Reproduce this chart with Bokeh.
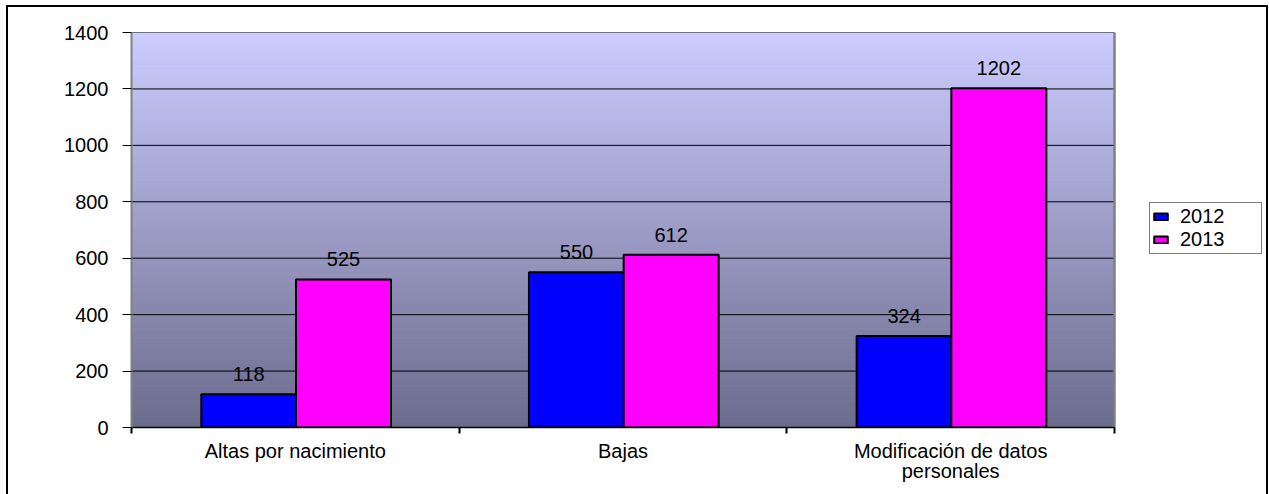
import numpy as np
from bokeh.plotting import figure
from bokeh.models import (ColumnDataSource, Range1d, FixedTicker, Legend, LegendItem)
from bokeh.transform import dodge
from bokeh.core.properties import value
from bokeh.embed import file_html
from bokeh.resources import INLINE

# ---- data ----
categories = ["Altas por nacimiento", "Bajas", "Modificación de datos\npersonales"]
series_names = ["2012", "2013"]
values_2012 = [118, 550, 324]
values_2013 = [525, 612, 1202]
y_ticks = [0, 200, 400, 600, 800, 1000, 1200, 1400]

FONT = "Liberation Sans"
FS = "20px"
n_cat = len(categories)
positions = [i + 0.5 for i in range(n_cat)]

# layout: plot area 983 px wide; the frame is extended to the right to host the legend
PLOT_W = 983
FRAME_W = 1131
x_end = n_cat * FRAME_W / PLOT_W

src = ColumnDataSource(dict(x=positions, y2012=values_2012, y2013=values_2013,
                            l2012=[str(v) for v in values_2012],
                            l2013=[str(v) for v in values_2013]))

p = figure(width=1262, height=489, output_backend="svg", toolbar_location=None,
           x_range=Range1d(0, x_end), y_range=Range1d(0, y_ticks[-1]),
           min_border_left=123, min_border_right=1262 - 123 - FRAME_W,
           min_border_top=25, min_border_bottom=69)
p.styles = {"border": "2px solid black", "border-bottom": "none",
            "margin-left": "6px", "margin-top": "5px"}
p.background_fill_color = "white"
p.border_fill_color = "white"
p.outline_line_color = None

# gradient background strips
n = 140
edges = np.linspace(y_ticks[0], y_ticks[-1], n + 1)
top_c = np.array([204, 204, 255])
bot_c = np.array([107, 107, 140])
cols = []
for i in range(n):
    t = (i + 0.5) / n
    c = bot_c + (top_c - bot_c) * t
    cols.append("#%02x%02x%02x" % tuple(int(round(v)) for v in c))
g = p.quad(left=0, right=n_cat, bottom=edges[:-1], top=edges[1:],
           fill_color=cols, line_color=cols, line_width=1)
g.level = "image"

# horizontal grid lines limited to the plot area
p.xgrid.visible = False
p.ygrid.visible = False
p.segment(x0=[0] * len(y_ticks), x1=[n_cat] * len(y_ticks), y0=y_ticks, y1=y_ticks,
          line_color="black", line_width=1)
# right edge of the plot area
p.segment(x0=[n_cat], x1=[n_cat], y0=[y_ticks[0]], y1=[y_ticks[-1]],
          line_color="#808080", line_width=2.5)

bw = 0.29
r1 = p.vbar(x=dodge("x", -0.142, range=p.x_range), top="y2012", width=bw, source=src,
            fill_color="#0000ff", line_color="black", line_width=2)
r2 = p.vbar(x=dodge("x", 0.147, range=p.x_range), top="y2013", width=bw, source=src,
            fill_color="#ff00ff", line_color="black", line_width=2)

p.text(x=dodge("x", -0.142, range=p.x_range), y="y2012", text="l2012", source=src,
       text_align="center", text_baseline="bottom", y_offset=-13,
       text_font=value(FONT), text_font_size=FS, text_color="black")
p.text(x=dodge("x", 0.147, range=p.x_range), y="y2013", text="l2013", source=src,
       text_align="center", text_baseline="bottom", y_offset=-13,
       text_font=value(FONT), text_font_size=FS, text_color="black")

# y axis
p.yaxis.ticker = FixedTicker(ticks=y_ticks)
p.yaxis.axis_line_color = "#808080"
p.yaxis.axis_line_width = 2
p.yaxis.major_tick_out = 9
p.yaxis.major_tick_in = 0
p.yaxis.major_tick_line_color = "black"
p.yaxis.minor_tick_line_color = None
p.yaxis.major_label_standoff = 14
p.yaxis.major_label_text_font = FONT
p.yaxis.major_label_text_font_size = FS
p.yaxis.major_label_text_color = "black"

# x axis
p.xaxis.bounds = (0, n_cat)
p.xaxis.ticker = FixedTicker(ticks=positions, minor_ticks=list(range(n_cat + 1)))
p.xaxis.major_label_overrides = {pos: lab for pos, lab in zip(positions, categories)}
p.xaxis.axis_line_color = "black"
p.xaxis.axis_line_width = 1.5
p.xaxis.major_tick_out = 0
p.xaxis.major_tick_in = 0
p.xaxis.minor_tick_out = 6
p.xaxis.minor_tick_in = 0
p.xaxis.minor_tick_line_color = "black"
p.xaxis.minor_tick_line_width = 2
p.xaxis.major_label_standoff = 6
p.xaxis.major_label_text_font = FONT
p.xaxis.major_label_text_font_size = FS
p.xaxis.major_label_text_line_height = 0.95
p.xaxis.major_label_text_color = "black"

legend = Legend(items=[LegendItem(label=series_names[0], renderers=[r1]),
                       LegendItem(label=series_names[1], renderers=[r2])],
                location=(1018, 173))
legend.border_line_color = "black"
legend.border_line_width = 1
legend.background_fill_color = "white"
legend.label_text_font = FONT
legend.label_text_font_size = FS
legend.label_text_color = "black"
legend.glyph_width = 17
legend.glyph_height = 9
legend.label_height = 17
legend.label_width = 79
legend.label_standoff = 11
legend.spacing = 0
legend.padding = 2
legend.margin = 0
p.add_layout(legend, "center")

open("out.html", "w").write(file_html(p, INLINE))
